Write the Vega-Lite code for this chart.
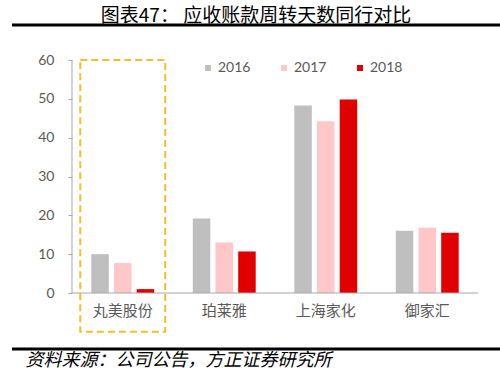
{
  "$schema": "https://vega.github.io/schema/vega-lite/v6.json",
  "width": 488,
  "height": 324,
  "autosize": "none",
  "padding": {"left": 12, "top": 25, "right": 0, "bottom": 29},
  "background": "white",
  "config": {
    "view": {"stroke": "#000000", "strokeWidth": 3, "strokeDash": [488, 324]},
    "axis": {"grid": false}
  },
  "title": {
    "text": "图表47：  应收账款周转天数同行对比",
    "font": "Noto Sans CJK SC",
    "fontSize": 19,
    "fontWeight": "normal",
    "color": "#000000",
    "anchor": "middle",
    "frame": "group",
    "offset": 2,
    "dy": 3
  },
  "data": {
    "values": [
      {"company": "丸美股份", "year": "2016", "value": 10.0},
      {"company": "丸美股份", "year": "2017", "value": 7.7},
      {"company": "丸美股份", "year": "2018", "value": 1.0},
      {"company": "珀莱雅", "year": "2016", "value": 19.2},
      {"company": "珀莱雅", "year": "2017", "value": 13.0},
      {"company": "珀莱雅", "year": "2018", "value": 10.7},
      {"company": "上海家化", "year": "2016", "value": 48.3},
      {"company": "上海家化", "year": "2017", "value": 44.2},
      {"company": "上海家化", "year": "2018", "value": 49.8},
      {"company": "御家汇", "year": "2016", "value": 16.0},
      {"company": "御家汇", "year": "2017", "value": 16.8},
      {"company": "御家汇", "year": "2018", "value": 15.5}
    ]
  },
  "layer": [
    {
      "mark": {"type": "bar", "stroke": null},
      "encoding": {
        "x": {
          "field": "company",
          "type": "nominal",
          "scale": {"domain": ["丸美股份", "珀莱雅", "上海家化", "御家汇"], "paddingInner": 0, "paddingOuter": 0.40394, "align": 0.7317},
          "axis": {
            "orient": "bottom",
            "offset": -56,
            "domain": false,
            "ticks": false,
            "labelAngle": 0,
            "labelFont": "Noto Sans CJK SC",
            "labelFontSize": 15,
            "labelColor": "#595959",
            "labelPadding": 10,
            "title": "资料来源：公司公告，方正证券研究所",
            "titleFont": "Noto Sans CJK SC",
            "titleFontStyle": "italic",
            "titleFontWeight": "normal",
            "titleFontSize": 18,
            "titleColor": "#000000",
            "titleAnchor": "start",
            "titleAlign": "left",
            "titleBaseline": "middle",
            "titleX": 13,
            "titleY": 67
          }
        },
        "xOffset": {
          "field": "year",
          "type": "nominal",
          "scale": {"paddingInner": 0.229, "paddingOuter": 0.85}
        },
        "y": {
          "field": "value",
          "type": "quantitative",
          "scale": {"domain": [-14.42, 69.013], "nice": false, "zero": false},
          "axis": {
            "orient": "left",
            "offset": -60,
            "domain": false,
            "values": [0, 10, 20, 30, 40, 50, 60],
            "tickSize": 4,
            "tickColor": "#a6a6a6",
            "labelFont": "Lato",
            "labelFontSize": 14,
            "labelColor": "#595959",
            "labelPadding": 14,
            "title": null
          }
        },
        "color": {
          "field": "year",
          "type": "nominal",
          "scale": {"domain": ["2016", "2017", "2018"], "range": ["#bfbfbf", "#ffc7c7", "#e00000"]},
          "legend": {
            "orient": "none",
            "legendX": 189,
            "legendY": 36,
            "direction": "horizontal",
            "title": null,
            "padding": 0,
            "symbolType": "square",
            "symbolSize": 36,
            "symbolStrokeWidth": 0,
            "labelFont": "Lato",
            "labelFontSize": 14,
            "labelColor": "#595959",
            "labelOffset": 3,
            "columnPadding": 26
          }
        }
      }
    },
    {
      "data": {"values": [{"company": "丸美股份"}]},
      "mark": {"type": "bar", "width": {"band": 0.837}, "fill": null, "fillOpacity": 0, "stroke": "#f2bf2a", "strokeWidth": 2, "strokeDash": [7, 4]},
      "encoding": {
        "x": {"field": "company", "type": "nominal"},
        "y": {"datum": 60},
        "y2": {"datum": -9.97}
      }
    },
    {
      "data": {"values": [{"company": "丸美股份"}]},
      "mark": {"type": "rule", "color": "#a6a6a6", "strokeWidth": 1},
      "encoding": {
        "x": {"field": "company", "type": "nominal", "bandPosition": 0},
        "y": {"datum": 0},
        "y2": {"datum": 60}
      }
    },
    {
      "data": {"values": [{"company": "丸美股份", "end": "御家汇"}]},
      "mark": {"type": "rule", "color": "#a6a6a6", "strokeWidth": 1},
      "encoding": {
        "x": {"field": "company", "type": "nominal", "bandPosition": 0},
        "x2": {"field": "end", "bandPosition": 1},
        "y": {"datum": 0}
      }
    }
  ]
}
